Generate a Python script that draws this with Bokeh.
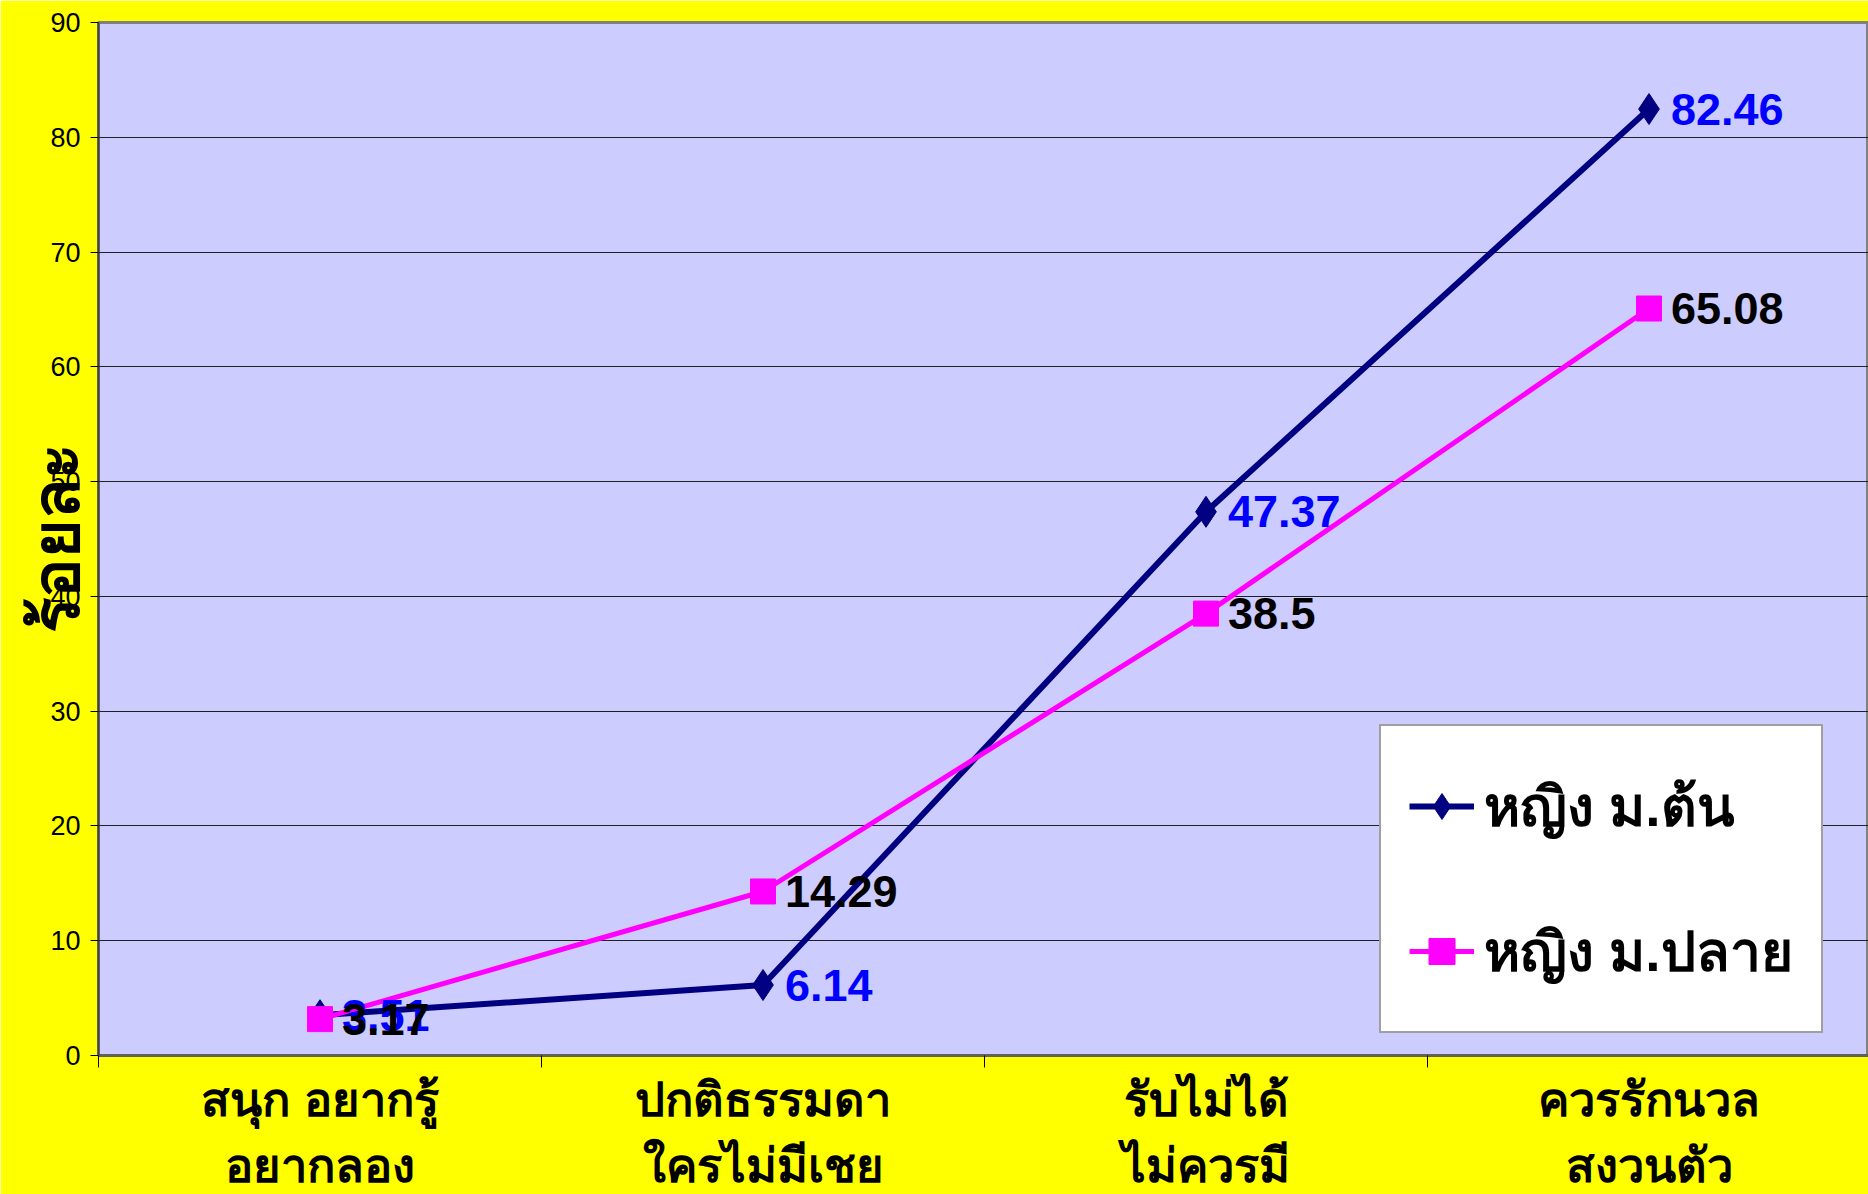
from bokeh.plotting import figure
from bokeh.models import ColumnDataSource, Range1d, FixedTicker, Legend, LegendItem
from bokeh.core.properties import value
from bokeh.embed import file_html
from bokeh.resources import INLINE

# ---- data ----
categories = ["สนุก อยากรู้\nอยากลอง", "ปกติธรรมดา\nใครไม่มีเชย", "รับไม่ได้\nไม่ควรมี", "ควรรักนวล\nสงวนตัว"]
series_names = ["หญิง ม.ต้น", "หญิง ม.ปลาย"]
lower_secondary = [3.51, 6.14, 47.37, 82.46]
upper_secondary = [3.17, 14.29, 38.5, 65.08]
y_ticks = [0, 10, 20, 30, 40, 50, 60, 70, 80, 90]
y_axis_title = "ร้อยละ"

# ---- layout constants ----
W, H = 1868, 1194
LEFT, TOP, RIGHT = 98, 22, 0
CAT_PX = 443.0
FRAME_H = 1034
BOTTOM = H - TOP - FRAME_H
frame_w = W - LEFT - RIGHT

THAI = "Liberation Sans"
NUM = "Liberation Sans"

xs = [i + 0.5 for i in range(len(categories))]

p = figure(width=W, height=H, output_backend="svg", toolbar_location=None,
           x_range=Range1d(0, frame_w / CAT_PX), y_range=Range1d(0, 90),
           min_border_left=LEFT, min_border_top=TOP, min_border_right=RIGHT,
           min_border_bottom=BOTTOM)
p.background_fill_color = "#CCCCFF"
p.border_fill_color = "#FFFF00"
p.outline_line_color = "#808080"
p.outline_line_width = 3

# y axis
p.yaxis.ticker = FixedTicker(ticks=y_ticks)
p.yaxis.major_label_text_font = NUM
p.yaxis.major_label_text_font_size = "27px"
p.yaxis.major_label_text_color = "black"
p.yaxis.major_tick_out = 8
p.yaxis.major_tick_in = 0
p.yaxis.minor_tick_out = 0
p.yaxis.minor_tick_in = 0
p.yaxis.major_label_standoff = 10
p.yaxis.axis_line_color = "#404040"
p.yaxis.axis_line_width = 2
p.yaxis.major_tick_line_color = "black"
p.yaxis.axis_label = y_axis_title
p.yaxis.axis_label_text_font = THAI
p.yaxis.axis_label_text_font_style = "bold"
p.yaxis.axis_label_text_font_size = "66px"
p.yaxis.axis_label_text_color = "black"
p.yaxis.axis_label_standoff = -46

# x axis: labels at category centres, ticks at category boundaries
p.xaxis.ticker = FixedTicker(ticks=xs, minor_ticks=list(range(len(categories) + 1)))
p.xaxis.major_label_overrides = {x: c for x, c in zip(xs, categories)}
p.xaxis.major_label_text_font = THAI
p.xaxis.major_label_text_font_style = "bold"
p.xaxis.major_label_text_font_size = "47px"
p.xaxis.major_label_text_color = "black"
p.xaxis.major_label_text_line_height = 1.25
p.xaxis.major_label_standoff = 5
p.xaxis.major_tick_out = 0
p.xaxis.major_tick_in = 0
p.xaxis.minor_tick_out = 12
p.xaxis.minor_tick_in = 0
p.xaxis.minor_tick_line_color = "black"
p.xaxis.axis_line_color = "#606060"
p.xaxis.axis_line_width = 3

p.xgrid.grid_line_color = None
p.ygrid.grid_line_color = "#202020"
p.ygrid.grid_line_width = 1

# series
src1 = ColumnDataSource(dict(x=xs, y=lower_secondary, t=[f"{v:g}" for v in lower_secondary]))
src2 = ColumnDataSource(dict(x=xs, y=upper_secondary, t=[f"{v:g}" for v in upper_secondary]))

l1 = p.line("x", "y", source=src1, line_color="#000080", line_width=6)
m1 = p.scatter("x", "y", source=src1, marker="diamond", size=31, fill_color="#000080", line_color="#000080")
l2 = p.line("x", "y", source=src2, line_color="#FF00FF", line_width=5)
m2 = p.scatter("x", "y", source=src2, marker="square", size=25, fill_color="#FF00FF", line_color="#FF00FF")

p.text("x", "y", text="t", source=src1, x_offset=22, text_baseline="middle", text_align="left",
       text_font=value(NUM), text_font_style="bold", text_font_size="45px", text_color="#0000FF")
p.text("x", "y", text="t", source=src2, x_offset=22, text_baseline="middle", text_align="left",
       text_font=value(NUM), text_font_style="bold", text_font_size="45px", text_color="black")

legend = Legend(items=[LegendItem(label=series_names[0], renderers=[l1, m1]),
                       LegendItem(label=series_names[1], renderers=[l2, m2])],
                location=(1281, 22))
legend.label_text_font = THAI
legend.label_text_font_style = "bold"
legend.label_text_font_size = "55px"
legend.label_text_color = "black"
legend.glyph_width = 65
legend.glyph_height = 104
legend.label_height = 104
legend.padding = 28
legend.spacing = 41
legend.label_standoff = 10
legend.border_line_color = "#404040"
legend.border_line_width = 2
legend.background_fill_color = "white"
legend.background_fill_alpha = 1.0
p.add_layout(legend, "center")

html = file_html(p, INLINE)
html = html.replace("<body>", '<body style="background-color:#FFFF00;overflow:hidden;">', 1)
open("out.html", "w").write(html)
